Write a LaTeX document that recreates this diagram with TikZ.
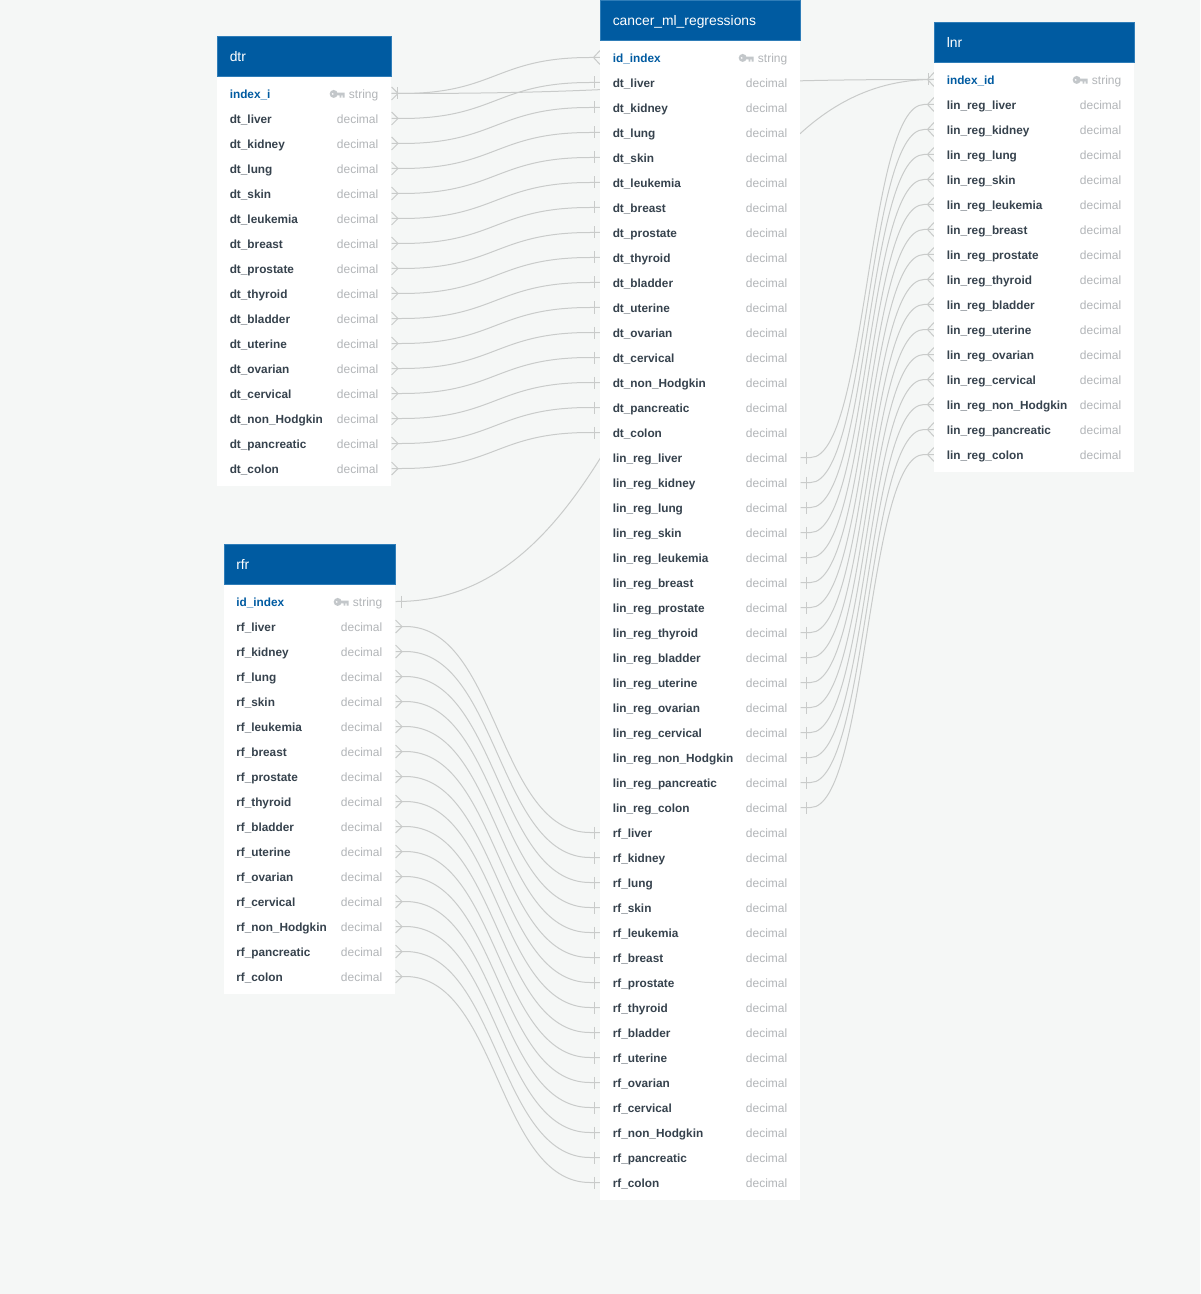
\documentclass[tikz,border=0pt]{standalone}
\usepackage{fontspec}
\setmainfont{Liberation Sans}
\usetikzlibrary{calc}
\definecolor{pagebg}{HTML}{F5F7F6}
\definecolor{headblue}{HTML}{005BA1}
\definecolor{headedge}{HTML}{2F7DB8}
\definecolor{inkdark}{HTML}{36424D}
\definecolor{inktype}{HTML}{B2B5B8}
\definecolor{linegrey}{HTML}{C9CBCA}
\definecolor{keygrey}{HTML}{C3C7CA}
\pgfdeclarelayer{bglayer}
\pgfdeclarelayer{connlayer}
\pgfsetlayers{bglayer,connlayer,main}
\tikzset{
  conn/.style={draw=linegrey,line width=0.75pt},
  headbox/.style={fill=headblue,draw=headedge,line width=0.3pt,inner sep=0pt,minimum height=30pt,anchor=north west},
  bodybox/.style={fill=white,inner sep=0pt,anchor=north west},
  rowbox/.style={inner sep=0pt,minimum height=18.75pt,anchor=west},
  titletext/.style={text=white,font=\fontsize{10.4pt}{12pt}\selectfont,inner sep=0pt,anchor=mid west},
  nametext/.style={text=inkdark,font=\fontsize{8.85pt}{11pt}\selectfont\bfseries,inner sep=0pt,anchor=mid west},
  keytext/.style={text=headblue,font=\fontsize{8.85pt}{11pt}\selectfont\bfseries,inner sep=0pt,anchor=mid west},
  typetext/.style={text=inktype,font=\fontsize{9pt}{11pt}\selectfont,inner sep=0pt,anchor=mid east}
}
% id, title, left, right, top, number of rows
\newcommand{\tablebox}[6]{%
  \node[bodybox,minimum width={(#4-#3)*0.75pt},minimum height={(57+25*(#6-1)+17.5)*0.75pt}] (#1-body) at (#3,#5) {};
  \node[headbox,minimum width={(#4-#3)*0.75pt}] (#1-head) at (#3,#5) {};
  \node[titletext] (#1-title) at ($(#1-head.west)+(12.5,1.5)$) {#2};
}
% id, index, left, right, top, name, type
\newcommand{\plainrow}[7]{%
  \node[rowbox,minimum width={(#4-#3)*0.75pt}] (#1-#2) at (#3,{#5+57+25*(#2-1)}) {};
  \node[nametext] (#1-#2-name) at ($(#1-#2.west)+(12.5,1)$) {#6};
  \node[typetext] (#1-#2-type) at ($(#1-#2.east)+(-13,1)$) {#7};
}
% id, left, right, top, name
\newcommand{\keyrow}[5]{%
  \node[rowbox,minimum width={(#3-#2)*0.75pt}] (#1-1) at (#2,{#4+57}) {};
  \node[keytext] (#1-1-name) at ($(#1-1.west)+(12.5,1)$) {#5};
  \node[typetext] (#1-1-type) at ($(#1-1.east)+(-13,1)$) {string};
  \fill[keygrey,even odd rule] ($(#1-1-type.west)+(-15,-1)$) circle[radius=4] ($(#1-1-type.west)+(-16,-1)$) circle[radius=1.2];
  \fill[keygrey] ($(#1-1-type.west)+(-12,-2.2)$) rectangle ++(8,2.6) ($(#1-1-type.west)+(-9,0)$) rectangle ++(1.8,2.6) ($(#1-1-type.west)+(-6,0)$) rectangle ++(2,2.6);
}
% id, left, right, top, first index, prefix
\newcommand{\organrows}[6]{%
  \foreach \org [count=\c from #5] in {liver,kidney,lung,skin,leukemia,breast,prostate,thyroid,bladder,uterine,ovarian,cervical,non\_Hodgkin,pancreatic,colon}{%
    \plainrow{#1}{\c}{#2}{#3}{#4}{#6\_\org}{decimal}
  }%
}
% connector: straight stubs of the given length at both ends, S-curve in between
\newcommand{\linkrow}[3][10]{%
  \draw[conn] let \p1=(#2.east),\p2=(#3.west),\n1={(\x1+\x2)/2} in
    (\p1) -- ++(#1,0) .. controls (\n1,\y1) and (\n1,\y2) .. ($(\p2)+(-#1,0)$) -- (\p2);
}
\newcommand{\crowR}[1]{\draw[conn] ($(#1.east)+(0,-6.5)$) -- ($(#1.east)+(6.5,0)$) -- ($(#1.east)+(0,6.5)$);}
\newcommand{\crowL}[1]{\draw[conn] ($(#1.west)+(0,-7)$) -- ($(#1.west)+(-6.5,0)$) -- ($(#1.west)+(0,7)$);}
\newcommand{\barR}[1]{\draw[conn] ($(#1.east)+(5.5,-6)$) -- ($(#1.east)+(5.5,6)$);}
\newcommand{\barL}[1]{\draw[conn] ($(#1.west)+(-6,-6)$) -- ($(#1.west)+(-6,6)$);}
\begin{document}
\begin{tikzpicture}[x=0.75pt,y=-0.75pt]
\useasboundingbox (0,0) rectangle (1200,1294);
\begin{pgfonlayer}{bglayer}
  \fill[pagebg] (0,0) rectangle (1200,1294);
\end{pgfonlayer}
% dtr
\tablebox{dtr}{dtr}{217}{391}{36.5}{16}
\keyrow{dtr}{217}{391}{36.5}{index\_i}
\organrows{dtr}{217}{391}{36.5}{2}{dt}
% rfr
\tablebox{rfr}{rfr}{223.5}{395}{544}{16}
\keyrow{rfr}{223.5}{395}{544.5}{id\_index}
\organrows{rfr}{223.5}{395}{544.5}{2}{rf}
% cancer_ml_regressions
\tablebox{crm}{cancer\_ml\_regressions}{600}{800}{0}{46}
\keyrow{crm}{600}{800}{0.5}{id\_index}
\organrows{crm}{600}{800}{0.5}{2}{dt}
\organrows{crm}{600}{800}{0.5}{17}{lin\_reg}
\organrows{crm}{600}{800}{0.5}{32}{rf}
% lnr
\tablebox{lnr}{lnr}{934}{1134}{22.5}{16}
\keyrow{lnr}{934}{1134}{22.5}{index\_id}
\organrows{lnr}{934}{1134}{22.5}{2}{lin\_reg}
\begin{pgfonlayer}{connlayer}
  \linkrow{dtr-1}{crm-1}
  \linkrow{dtr-1}{lnr-1}
  \linkrow[1]{rfr-1}{lnr-1}
  \crowR{dtr-1}\barR{dtr-1}
  \crowL{crm-1}
  \crowL{lnr-1}\barL{lnr-1}
  \barR{rfr-1}
  \foreach \i [evaluate=\i as \j using int(\i+15), evaluate=\i as \k using int(\i+30)] in {2,...,16}{%
    \linkrow{dtr-\i}{crm-\i}
    \crowR{dtr-\i}\barL{crm-\i}
    \linkrow{crm-\j}{lnr-\i}
    \barR{crm-\j}\crowL{lnr-\i}
    \linkrow{rfr-\i}{crm-\k}
    \crowR{rfr-\i}\barL{crm-\k}
  }
\end{pgfonlayer}
\end{tikzpicture}
\end{document}
